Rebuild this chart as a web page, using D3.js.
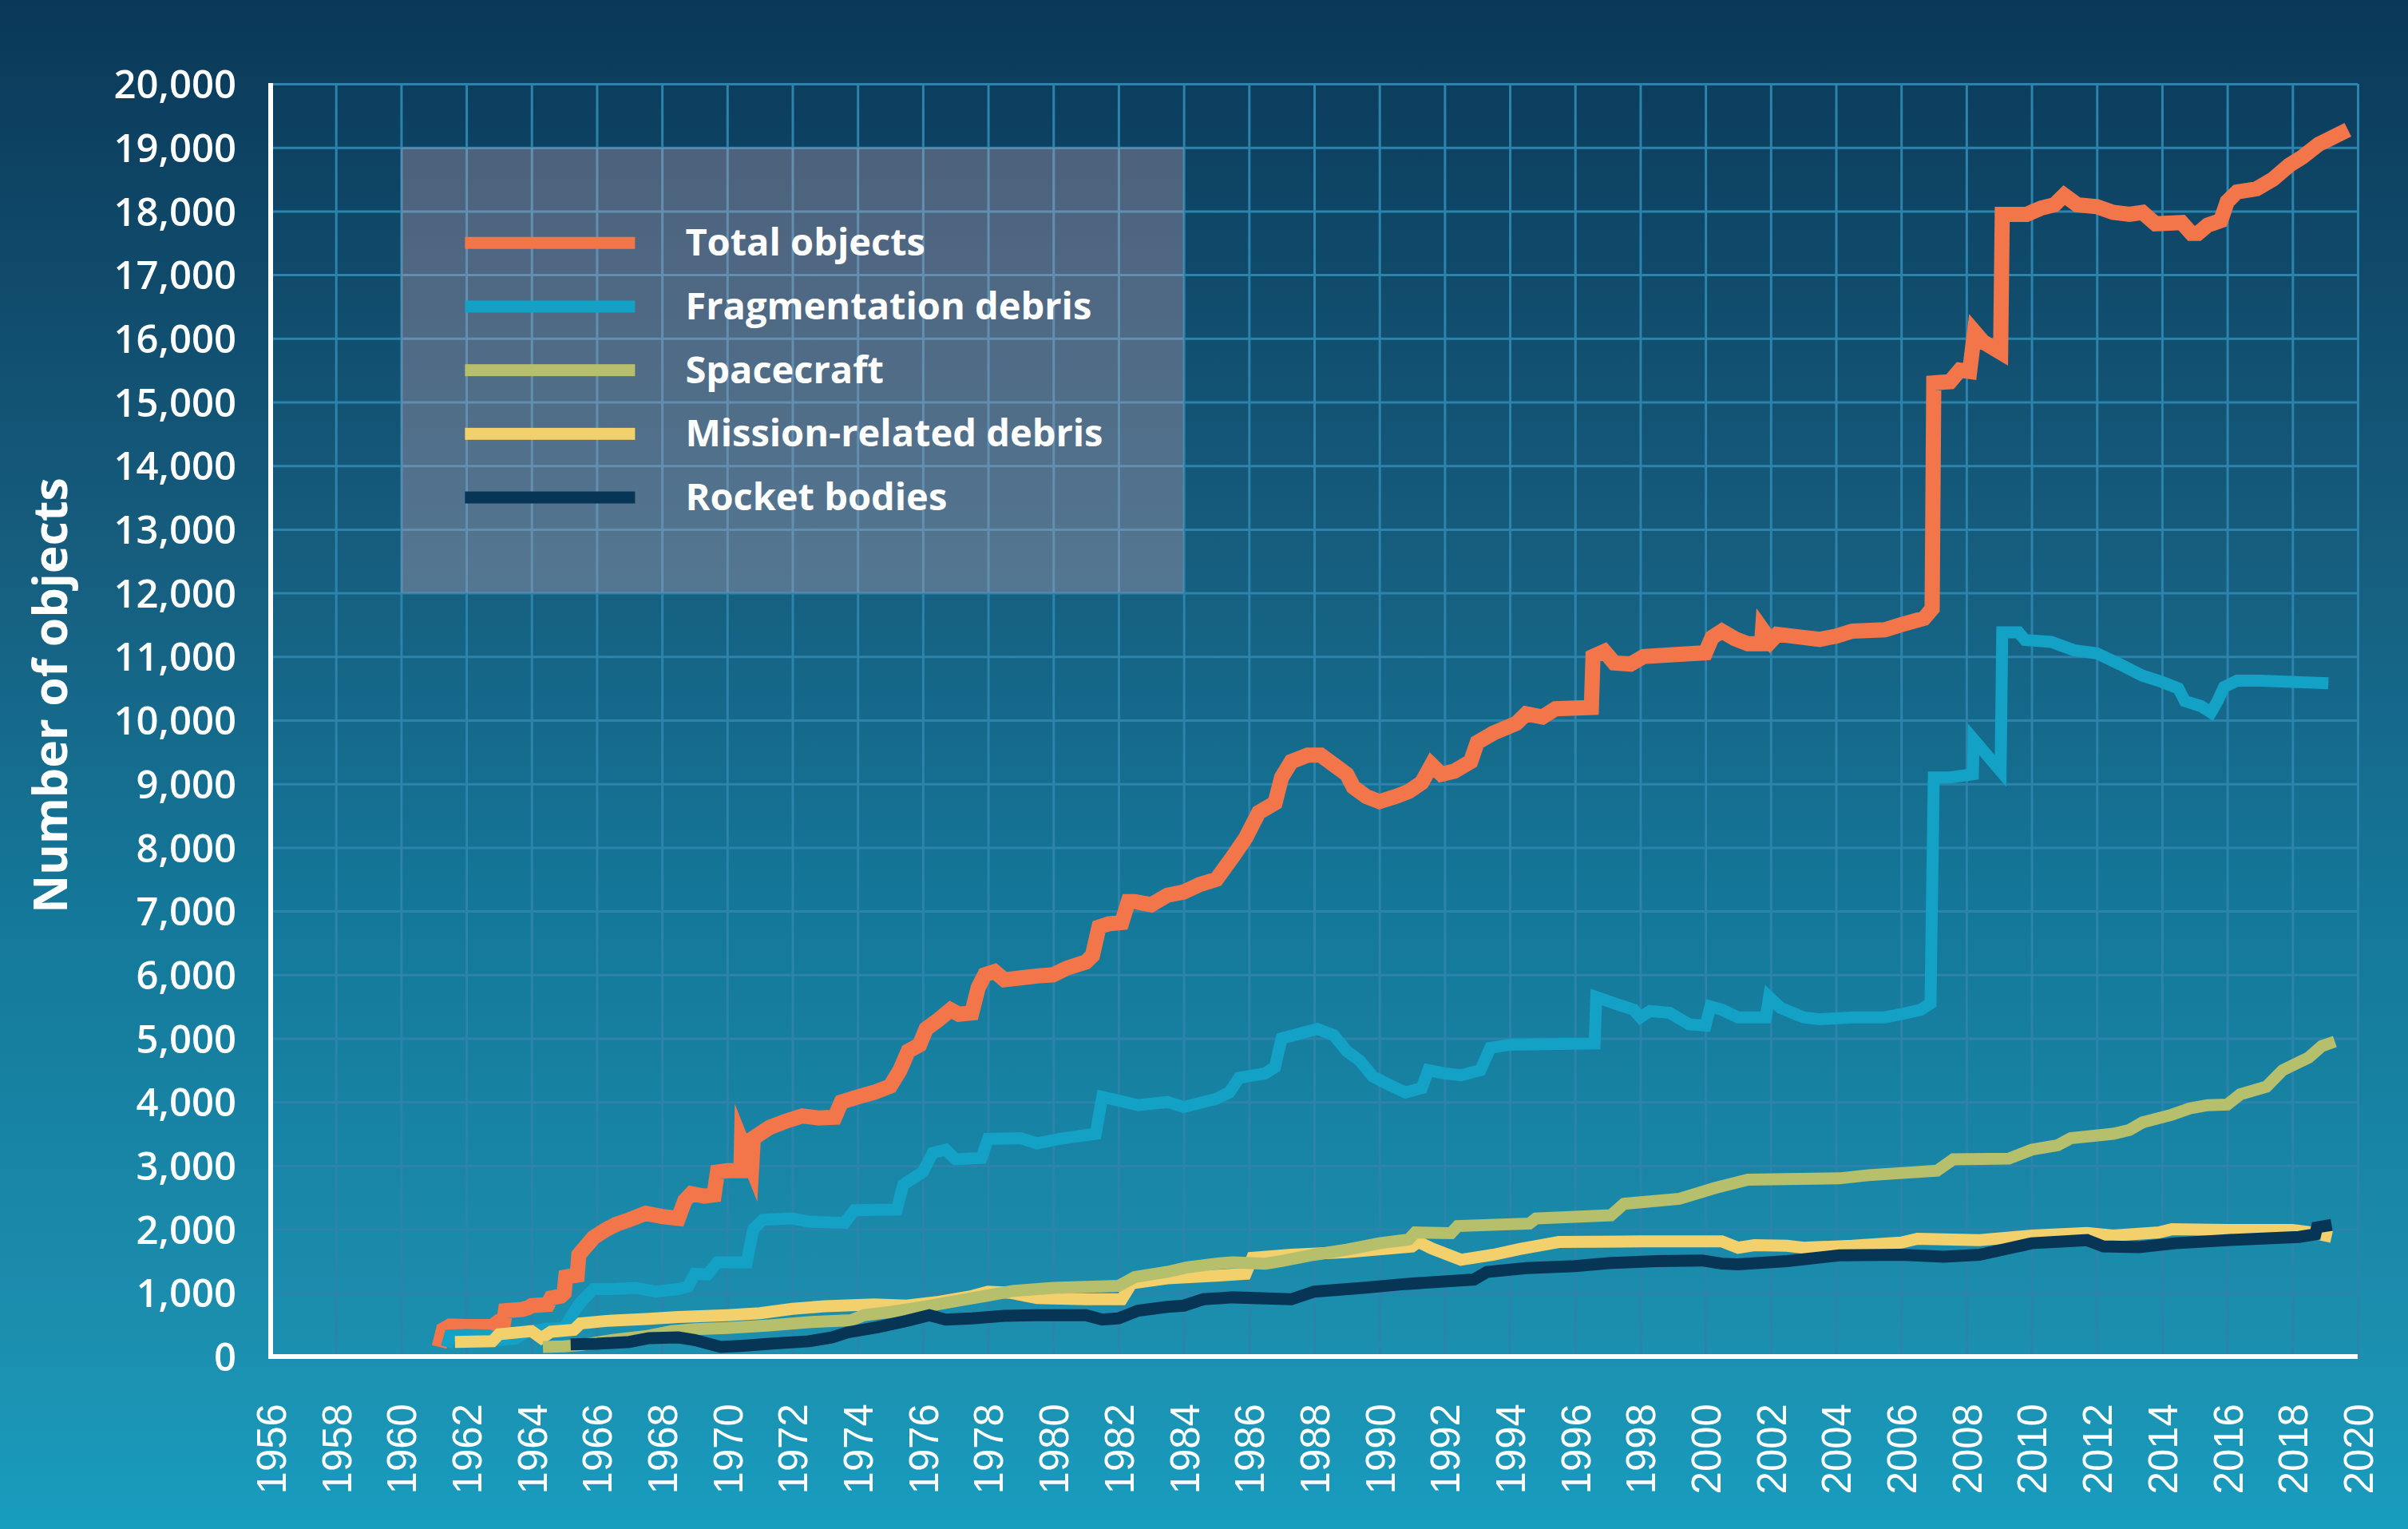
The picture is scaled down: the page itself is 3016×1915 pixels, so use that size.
<!DOCTYPE html>
<html><head><meta charset="utf-8">
<script src="https://cdn.jsdelivr.net/npm/d3@7"></script>
<style>
html,body{margin:0;padding:0;background:#0a3959;}
svg{display:block;}
</style></head>
<body>
<svg id="chart" width="3016" height="1915"></svg>
<script>
// ---------------- DATA ----------------
const categories = ["Total objects", "Fragmentation debris", "Spacecraft", "Mission-related debris", "Rocket bodies"];
const seriesColors = ["#f2764a", "#13a1c5", "#b6bf6c", "#f2d06c", "#073556"];

const totalObjects = [
  [1961.17,150],[1961.3,420],[1961.5,480],[1962.0,470],[1962.8,470],[1963.0,550],[1963.15,560],[1963.2,720],[1963.7,740],
  [1963.9,770],[1964.0,800],[1964.5,820],[1964.6,920],[1964.9,950],[1965.0,1000],[1965.05,1250],[1965.4,1280],[1965.45,1600],
  [1965.7,1750],[1965.9,1870],[1966.3,2000],[1966.6,2080],[1967.0,2150],[1967.5,2250],[1968.0,2200],[1968.5,2170],[1968.7,2450],
  [1968.9,2560],[1969.3,2520],[1969.6,2540],[1969.7,2900],[1970.0,2920],[1970.42,2920],[1970.44,3380],[1970.75,2980],[1970.8,3430],
  [1971.3,3600],[1971.8,3700],[1972.3,3780],[1972.8,3750],[1973.3,3760],[1973.5,4000],[1974.0,4080],[1974.5,4150],[1975.0,4250],
  [1975.3,4500],[1975.55,4800],[1975.9,4900],[1976.1,5150],[1976.5,5300],[1976.85,5450],[1977.1,5380],[1977.5,5400],[1977.7,5800],
  [1977.9,6000],[1978.2,6050],[1978.5,5920],[1979.0,5950],[1979.5,5980],[1980.0,6000],[1980.4,6100],[1981.0,6200],[1981.2,6300],
  [1981.4,6750],[1981.7,6800],[1982.1,6820],[1982.3,7150],[1982.5,7150],[1983.0,7100],[1983.5,7250],[1984.0,7300],[1984.5,7420],
  [1985.0,7500],[1985.5,7850],[1985.9,8150],[1986.1,8350],[1986.3,8550],[1986.8,8700],[1987.0,9100],[1987.3,9350],[1987.8,9450],
  [1988.2,9450],[1988.6,9300],[1989.0,9150],[1989.2,8950],[1989.6,8800],[1990.0,8720],[1990.5,8800],[1990.9,8880],[1991.3,9020],
  [1991.6,9300],[1991.9,9150],[1992.3,9200],[1992.8,9350],[1993.0,9650],[1993.5,9800],[1994.2,9950],[1994.5,10100],[1995.0,10050],
  [1995.4,10180],[1996.5,10200],[1996.55,11000],[1996.9,11080],[1997.2,10900],[1997.7,10880],[1998.1,11000],[1999.0,11030],
  [2000.0,11060],[2000.2,11300],[2000.5,11400],[2000.9,11280],[2001.3,11200],[2001.72,11200],[2001.75,11420],[2002.0,11240],
  [2002.2,11350],[2003.0,11300],[2003.5,11270],[2004.0,11320],[2004.5,11400],[2005.5,11420],[2006.0,11500],[2006.7,11600],
  [2006.95,11750],[2007.0,15300],[2007.5,15320],[2007.8,15500],[2008.1,15480],[2008.25,16100],[2008.5,15950],[2009.05,15780],
  [2009.1,17950],[2009.85,17950],[2010.3,18050],[2010.7,18100],[2011.0,18250],[2011.4,18100],[2012.0,18070],[2012.5,17980],
  [2013.0,17950],[2013.4,17980],[2013.8,17800],[2014.6,17820],[2014.9,17650],[2015.1,17650],[2015.4,17780],[2015.8,17850],
  [2016.0,18150],[2016.3,18300],[2016.9,18350],[2017.4,18500],[2017.9,18720],[2018.3,18850],[2018.8,19050],[2019.7,19280]
];

const fragmentationDebris = [
  [1961.4,150],[1961.5,330],[1962.0,340],[1962.7,330],[1963.0,260],[1963.5,280],[1963.9,400],[1964.5,440],[1965.0,450],
  [1965.3,700],[1965.5,850],[1965.9,1060],[1966.5,1060],[1967.2,1080],[1967.8,1020],[1968.5,1060],[1968.8,1100],[1969.0,1300],
  [1969.4,1290],[1969.7,1480],[1970.6,1480],[1970.8,2000],[1971.1,2150],[1972.0,2170],[1972.5,2120],[1973.6,2100],[1973.9,2300],
  [1975.2,2310],[1975.4,2700],[1976.0,2900],[1976.3,3200],[1976.7,3250],[1977.0,3100],[1977.8,3120],[1978.0,3420],[1979.0,3430],
  [1979.5,3350],[1980.2,3420],[1981.3,3500],[1981.5,4080],[1982.2,4000],[1982.6,3950],[1983.5,4000],[1984.0,3920],[1985.0,4050],
  [1985.4,4150],[1985.7,4380],[1986.5,4450],[1986.8,4550],[1987.0,5000],[1987.6,5080],[1988.1,5150],[1988.6,5050],[1989.0,4800],
  [1989.4,4650],[1989.8,4400],[1990.3,4270],[1990.8,4150],[1991.3,4220],[1991.5,4500],[1992.0,4450],[1992.5,4420],[1993.1,4500],
  [1993.4,4850],[1994.0,4900],[1996.6,4920],[1996.65,5650],[1997.2,5550],[1997.8,5450],[1998.0,5330],[1998.3,5430],[1998.9,5400],
  [1999.5,5220],[2000.0,5200],[2000.15,5500],[2000.5,5450],[2001.0,5330],[2001.85,5330],[2001.95,5650],[2002.3,5480],[2003.0,5330],
  [2003.5,5300],[2004.5,5330],[2005.5,5330],[2006.0,5380],[2006.6,5450],[2006.9,5550],[2007.0,9100],[2007.5,9100],[2008.2,9150],
  [2008.22,9700],[2009.05,9200],[2009.1,11380],[2009.6,11380],[2009.8,11260],[2010.6,11230],[2011.3,11100],[2012.0,11050],
  [2012.7,10880],[2013.4,10700],[2014.0,10600],[2014.5,10500],[2014.7,10300],[2015.2,10220],[2015.5,10120],[2015.7,10300],
  [2015.9,10520],[2016.3,10620],[2017.0,10620],[2019.1,10580]
];

const spacecraft = [
  [1964.35,150],[1965.0,160],[1965.5,180],[1966.5,260],[1967.5,320],[1968.3,400],[1969.0,430],[1970.0,450],[1971.3,490],
  [1972.5,540],[1973.8,570],[1974.2,650],[1975.0,700],[1976.0,780],[1977.0,870],[1978.0,960],[1978.75,1030],[1980.0,1080],
  [1982.0,1110],[1982.5,1250],[1983.5,1330],[1984.1,1400],[1985.0,1460],[1985.5,1480],[1986.5,1460],[1987.0,1500],[1988.0,1600],
  [1989.0,1680],[1990.0,1780],[1990.9,1840],[1991.1,1950],[1992.2,1940],[1992.4,2050],[1994.6,2090],[1994.8,2170],[1997.1,2220],
  [1997.5,2400],[1999.2,2480],[2000.3,2650],[2001.3,2780],[2004.1,2800],[2005.0,2850],[2006.5,2900],[2007.1,2920],[2007.6,3100],
  [2009.3,3110],[2010.0,3250],[2010.8,3320],[2011.2,3430],[2012.5,3500],[2013.0,3560],[2013.4,3680],[2014.3,3800],[2014.85,3900],
  [2015.4,3950],[2016.0,3960],[2016.4,4120],[2017.2,4240],[2017.7,4500],[2018.5,4700],[2018.9,4880],[2019.3,4950]
];

const missionRelatedDebris = [
  [1961.65,230],[1962.8,240],[1963.0,350],[1964.0,400],[1964.3,290],[1964.6,390],[1965.3,420],[1965.5,520],[1966.3,560],
  [1967.5,590],[1968.5,620],[1970.0,650],[1971.0,680],[1972.0,750],[1973.0,790],[1974.5,820],[1975.5,800],[1976.5,860],
  [1977.5,950],[1978.0,1020],[1978.7,1000],[1979.5,920],[1981.0,900],[1982.1,900],[1982.4,1150],[1983.5,1230],[1985.0,1270],
  [1985.9,1300],[1986.1,1550],[1987.3,1600],[1989.0,1640],[1991.0,1730],[1991.2,1800],[1991.6,1700],[1992.5,1520],[1993.5,1600],
  [1994.3,1690],[1995.5,1800],[1998.0,1810],[2000.5,1810],[2001.0,1710],[2001.5,1750],[2002.5,1740],[2003.0,1710],[2004.5,1740],
  [2006.0,1790],[2006.5,1850],[2008.4,1830],[2010.0,1900],[2011.7,1940],[2012.5,1900],[2013.9,1950],[2014.3,2000],[2016.0,1990],
  [2018.0,1990],[2018.6,1950],[2019.2,1880]
];

const rocketBodies = [
  [1965.2,190],[1966.0,200],[1967.0,230],[1967.6,290],[1968.5,300],[1969.0,260],[1969.8,150],[1970.5,170],[1971.3,200],
  [1972.5,240],[1973.2,300],[1973.7,380],[1974.6,460],[1975.5,560],[1976.2,650],[1976.7,580],[1977.5,600],[1978.5,640],
  [1979.5,650],[1981.0,650],[1981.5,580],[1982.0,600],[1982.6,720],[1983.5,780],[1984.0,800],[1984.6,900],[1985.5,930],
  [1987.3,900],[1988.0,1020],[1989.5,1080],[1990.8,1140],[1992.9,1210],[1993.3,1330],[1994.5,1390],[1996.0,1420],[1997.1,1470],
  [1998.5,1500],[1999.9,1510],[2000.5,1460],[2001.0,1450],[2002.5,1500],[2004.1,1590],[2006.0,1600],[2007.3,1570],[2008.4,1600],
  [2009.3,1700],[2010.0,1780],[2011.7,1830],[2012.2,1730],[2013.3,1720],[2014.4,1780],[2016.0,1830],[2018.2,1880],[2018.7,1920],
  [2018.75,2030],[2019.2,2070]
];

const xTickYears = d3.range(1956, 2021, 2);
const yTickValues = d3.range(0, 20001, 1000);
const yAxisTitle = "Number of objects";

// ---------------- CHART ----------------
const W = 3016, H = 1915;
const svg = d3.select("#chart");
const defs = svg.append("defs");
const grad = defs.append("linearGradient").attr("id","bg").attr("x1",0).attr("y1",0).attr("x2",0).attr("y2",1);
[[0,"#0a3858"],[0.37,"#165e7f"],[0.6,"#14789a"],[0.89,"#1c90b0"],[1,"#179dbf"]].forEach(s=>
  grad.append("stop").attr("offset",s[0]).attr("stop-color",s[1]));
svg.append("rect").attr("width",W).attr("height",H).attr("fill","url(#bg)");

const x = d3.scaleLinear().domain([1956, 2020]).range([339, 2953]);
const y = d3.scaleLinear().domain([0, 20000]).range([1699, 105]);

const gridColor = "#2c83ac";
// vertical grid
svg.append("g").attr("transform",`translate(0,${y(0)})`)
  .call(d3.axisBottom(x).tickValues(xTickYears.filter(d=>d>1956)).tickSize(-(y(0)-y(20000))).tickFormat(""))
  .call(g=>{g.select(".domain").remove(); g.selectAll("line").attr("stroke",gridColor).attr("stroke-width",3);});
// horizontal grid
svg.append("g").attr("transform",`translate(${x(1956)},0)`)
  .call(d3.axisLeft(y).tickValues(yTickValues.filter(d=>d>0)).tickSize(-(x(2020)-x(1956))).tickFormat(""))
  .call(g=>{g.select(".domain").remove(); g.selectAll("line").attr("stroke",gridColor).attr("stroke-width",3);});

// legend box (semi-transparent)
svg.append("rect")
  .attr("x", x(1960)).attr("y", y(19000))
  .attr("width", x(1984)-x(1960)).attr("height", y(12000)-y(19000))
  .attr("fill", "rgb(224,172,184)").attr("fill-opacity", 0.3);

// lines
const seriesData = [totalObjects, fragmentationDebris, missionRelatedDebris, spacecraft, rocketBodies];
const seriesIdx = [0, 1, 3, 2, 4];
const widths = [19, 15, 15, 15, 15];
const line = d3.line().x(d=>x(d[0])).y(d=>y(d[1])).curve(d3.curveLinear);
seriesData.forEach((data,i)=>{
  const k = seriesIdx[i];
  svg.append("path").datum(data)
    .attr("d", line)
    .attr("fill","none")
    .attr("stroke", seriesColors[k])
    .attr("stroke-width", widths[k])
    .attr("stroke-linejoin","miter")
    .attr("stroke-miterlimit", 12)
    .attr("stroke-linecap","butt");
});

// axes
const yAxis = svg.append("g").attr("transform",`translate(${x(1956)},0)`)
  .call(d3.axisLeft(y).tickValues(yTickValues).tickFormat(d3.format(",")).tickSize(0).tickPadding(43));
yAxis.select(".domain").remove();
yAxis.selectAll("text").attr("fill","#fff").style("font-family","'Open Sans', sans-serif")
  .style("font-weight",600).style("font-size","49px").attr("dy","0.36em");

const xAxis = svg.append("g").attr("transform",`translate(0,${y(0)})`)
  .call(d3.axisBottom(x).tickValues(xTickYears).tickFormat(d3.format("d")).tickSize(0));
xAxis.select(".domain").remove();
xAxis.selectAll("text")
  .attr("fill","#fff").style("font-family","'Liberation Sans', Arial, sans-serif").style("font-size","51px")
  .attr("transform","rotate(-90)").attr("x",-59).attr("y",0).attr("dy","0.36em").style("text-anchor","end");

// axis lines
svg.append("line").attr("x1",x(1956)).attr("x2",x(1956)).attr("y1",y(20000)-1).attr("y2",y(0)+3)
  .attr("stroke","#fff").attr("stroke-width",6);
svg.append("line").attr("x1",x(1956)-3).attr("x2",x(2020)).attr("y1",y(0)).attr("y2",y(0))
  .attr("stroke","#fff").attr("stroke-width",6);

// y title
svg.append("text").text(yAxisTitle)
  .attr("transform",`translate(63,${(y(0)+y(20000))/2 - 31}) rotate(-90)`)
  .attr("text-anchor","middle").attr("dy","0.36em")
  .attr("fill","#fff").style("font-family","'Open Sans', sans-serif").style("font-weight",700).style("font-size","59px");

// legend entries
const legendX = x(1960);
categories.forEach((name,i)=>{
  const cy = y(17500 - i*1000);
  svg.append("rect").attr("x", legendX+80).attr("y", cy-7.5).attr("width",213).attr("height",15)
    .attr("fill", seriesColors[i]);
  svg.append("text").text(name).attr("x", legendX+356).attr("y", cy+16)
    .attr("fill","#fff").style("font-family","'Open Sans', sans-serif").style("font-weight",700).style("font-size","47px");
});
</script>
</body></html>
